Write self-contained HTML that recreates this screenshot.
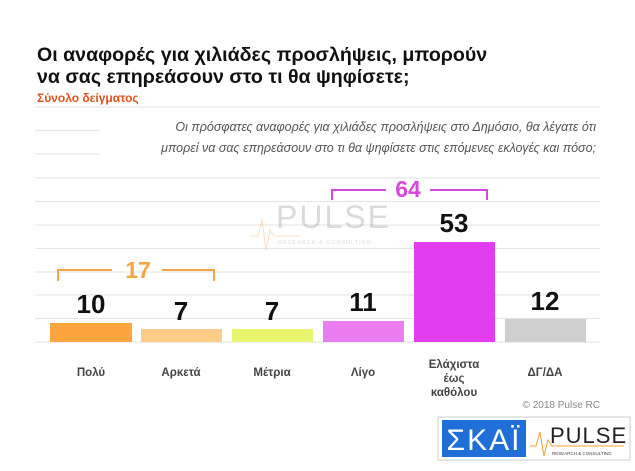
<!DOCTYPE html>
<html><head><meta charset="utf-8"><style>
body{margin:0;width:635px;height:466px;background:#fff;overflow:hidden;font-family:"Liberation Sans","DejaVu Sans",sans-serif}
</style></head><body>
<svg width="635" height="466" xmlns="http://www.w3.org/2000/svg" font-family="Liberation Sans, DejaVu Sans, sans-serif">
<text x="37" y="61" font-size="19.6" font-weight="bold" fill="#111">Οι αναφορές για χιλιάδες προσλήψεις, μπορούν</text>
<text x="37" y="83" font-size="19.6" font-weight="bold" fill="#111">να σας επηρεάσουν στο τι θα ψηφίσετε;</text>
<text x="37" y="102" font-size="12" font-weight="bold" fill="#e0521b">Σύνολο δείγματος</text>
<g stroke="#e6e6e6" stroke-width="1.2">
<line x1="35" y1="107" x2="600" y2="107"/><line x1="35" y1="130.5" x2="600" y2="130.5"/>
<line x1="35" y1="154" x2="600" y2="154"/><line x1="35" y1="178" x2="600" y2="178"/>
<line x1="35" y1="201.5" x2="600" y2="201.5"/><line x1="35" y1="225" x2="600" y2="225"/>
<line x1="35" y1="248.5" x2="600" y2="248.5"/><line x1="35" y1="272" x2="600" y2="272"/>
<line x1="35" y1="295" x2="600" y2="295"/><line x1="35" y1="318.5" x2="600" y2="318.5"/>
<line x1="35" y1="342" x2="600" y2="342"/></g>
<rect x="100" y="112" width="500" height="50" fill="#fff"/>
<text x="596" y="131" font-size="12.5" font-style="italic" fill="#555" text-anchor="end">Οι πρόσφατες αναφορές για χιλιάδες προσλήψεις στο Δημόσιο, θα λέγατε ότι</text>
<text x="596" y="152" font-size="12.5" font-style="italic" fill="#555" text-anchor="end">μπορεί να σας επηρεάσουν στο τι θα ψηφίσετε στις επόμενες εκλογές και πόσο;</text>
<g opacity="0.35"><text x="276" y="228" font-size="32" fill="#999" letter-spacing="2">PULSE</text>
<text x="278" y="244" font-size="5.5" fill="#999" letter-spacing="1">RESEARCH &amp; CONSULTING</text>
<polyline points="250,236 258,236 262,220 266,250 270,230 274,236 300,236" fill="none" stroke="#f5a050" stroke-width="1"/></g>
<rect x="50" y="323" width="82" height="19" fill="#fba53c"/>
<rect x="141" y="329" width="81" height="13" fill="#fdcc87"/>
<rect x="232" y="329" width="81" height="13" fill="#eaf56e"/>
<rect x="323" y="321" width="81" height="21" fill="#ea7ef0"/>
<rect x="414" y="242" width="81" height="100" fill="#e23ef0"/>
<rect x="505" y="319" width="81" height="23" fill="#cfcfcf"/>
<g font-size="26" font-weight="bold" fill="#111" text-anchor="middle">
<text x="91" y="313">10</text><text x="181" y="320">7</text><text x="272" y="320">7</text>
<text x="363" y="311">11</text><text x="454" y="232">53</text><text x="545" y="310">12</text></g>
<path d="M58,281 V270 H112 M162,270 H214 V281" fill="none" stroke="#f5a540" stroke-width="2"/>
<text x="138" y="278" font-size="23" font-weight="bold" fill="#f5a540" text-anchor="middle">17</text>
<path d="M332,200 V190 H386 M430,190 H487 V200" fill="none" stroke="#d848dc" stroke-width="2"/>
<text x="408" y="197" font-size="23" font-weight="bold" fill="#d848dc" text-anchor="middle">64</text>
<g font-size="11.5" font-weight="bold" fill="#444" text-anchor="middle">
<text x="91" y="376">Πολύ</text><text x="181" y="376">Αρκετά</text><text x="272" y="376">Μέτρια</text>
<text x="363" y="376">Λίγο</text><text x="454" y="368">Ελάχιστα</text><text x="454" y="382">έως</text><text x="454" y="396">καθόλου</text>
<text x="545" y="376">ΔΓ/ΔΑ</text></g>
<text x="600" y="408" font-size="10" fill="#888" text-anchor="end">© 2018 Pulse RC</text>
<rect x="438" y="417" width="192" height="43" fill="#fff" stroke="#ccc"/>
<rect x="442" y="420" width="84" height="37" fill="#1f6fd6"/>
<text x="484" y="450" font-size="30" fill="#fff" text-anchor="middle" letter-spacing="2">ΣΚΑΪ</text>
<text x="550" y="443" font-size="22" fill="#222" letter-spacing="1">PULSE</text>
<text x="552" y="455" font-size="4.5" fill="#444">RESEARCH &amp; CONSULTING</text>
<polyline points="530,446 536,446 540,432 544,456 548,440 552,446 624,446" fill="none" stroke="#f0a030" stroke-width="1"/>
</svg>
</body></html>
